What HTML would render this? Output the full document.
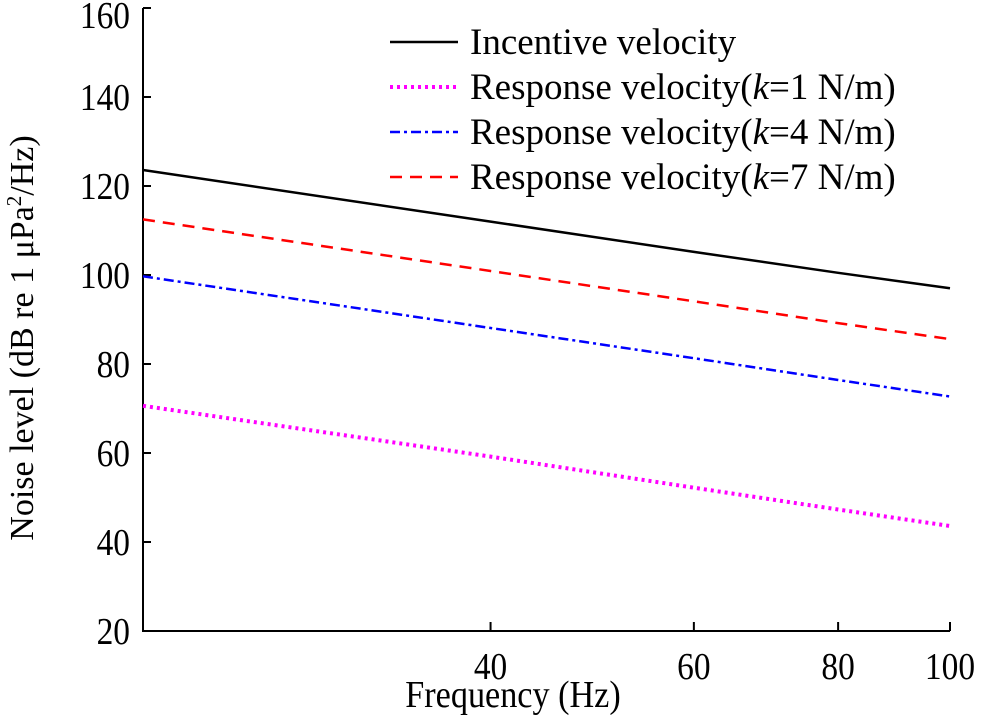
<!DOCTYPE html>
<html><head><meta charset="utf-8"><style>
body{margin:0;background:#fff;}
svg{display:block;font-family:"Liberation Serif",serif;}
</style></head><body>
<svg id="chart" width="986" height="725" viewBox="0 0 986 725">
<g id="axes"></g><g id="series"></g><g id="legend"></g>
</svg>
<script>
const freqs=[20,40,60,80,100];
const incentive=[123.6,112.0,105.2,100.5,97.0];
const resp1=[70.6,59.2,52.2,47.3,43.6];
const resp4=[99.7,88.1,81.3,76.4,72.7];
const resp7=[112.5,100.9,94.1,89.2,85.6];
const xTicks=[40,60,80,100];
const yTicks=[20,40,60,80,100,120,140,160];
const legendLabels=["Incentive velocity","Response velocity(","Response velocity(","Response velocity("];
const legendK=["","1","4","7"];

const NS="http://www.w3.org/2000/svg";
const X0=143,X1=950,Y0=631,Y1=8;
const xs=f=>X0+(Math.log10(f)-Math.log10(20))/(Math.log10(100)-Math.log10(20))*(X1-X0);
const ys=v=>Y0-(v-20)/(160-20)*(Y0-Y1);
function mk(tag,attrs,parent){const e=document.createElementNS(NS,tag);for(const k in attrs)e.setAttribute(k,attrs[k]);parent.appendChild(e);return e;}
const axes=document.getElementById('axes');
let a=mk('path',{d:`M${X0},${Y1}V${Y0}H${X1}`,fill:'none',stroke:'#000','stroke-width':2},axes);


yTicks.forEach(v=>{
  const t=mk('line',{x1:X0,x2:X0+8,y1:ys(v),y2:ys(v),stroke:'#000','stroke-width':2},axes);
  
  
  const by=Math.max(ys(v)+13,28);
  const l=mk('text',{x:0,y:0,'text-anchor':'end','font-size':38,transform:`translate(${X0-13},${by}) scale(0.88,1)`},axes);
  l.textContent=v;
  
  
});
xTicks.forEach(v=>{
  const t=mk('line',{x1:xs(v),x2:xs(v),y1:Y0,y2:Y0-9,stroke:'#000','stroke-width':2},axes);
  
  
  const l=mk('text',{x:0,y:0,'text-anchor':'middle','font-size':38,transform:`translate(${xs(v)},${Y0+48}) scale(0.88,1)`},axes);
  l.textContent=v;
  
  
});
let xt=mk('text',{x:0,y:0,'text-anchor':'middle','font-size':38,transform:'translate(513,707) scale(0.9,1)'},axes);
xt.textContent='Frequency (Hz)';


let yt=mk('text',{x:0,y:0,'text-anchor':'middle','font-size':34,transform:'translate(33,338) rotate(-90)'},axes);
yt.innerHTML='Noise level (dB re 1 μPa<tspan font-size="21" dy="-12">2</tspan><tspan dy="12">/Hz)</tspan>';



const styles=[
 {data:incentive,c:'#000',dash:'',w:2.5,name:'incentive-velocity-line'},
 {data:resp1,c:'#ff00ff',dash:'3 4',w:4,name:'response-k1-line'},
 {data:resp4,c:'#0000ff',dash:'10 4 3 4',w:2.5,name:'response-k4-line'},
 {data:resp7,c:'#ff0000',dash:'12 8',w:2.5,name:'response-k7-line'}];
const sg=document.getElementById('series');
styles.forEach(s=>{
  const d=s.data.map((v,i)=>(i?'L':'M')+xs(freqs[i]).toFixed(1)+','+ys(v).toFixed(1)).join('');
  const p=mk('path',{d,fill:'none',stroke:s.c,'stroke-width':s.w,'stroke-dasharray':s.dash},sg);
  
  
});
const lg=document.getElementById('legend');
styles.forEach((s,i)=>{
  const y=42+i*45;
  const ln=mk('line',{x1:390,x2:458,y1:y,y2:y,stroke:s.c,'stroke-width':s.w,'stroke-dasharray':s.dash},lg);
  
  
  const t=mk('text',{x:470,y:y+12,'font-size':37},lg);
  if(i===0)t.textContent=legendLabels[i];
  else t.innerHTML=legendLabels[i]+'<tspan font-style="italic">k</tspan>='+legendK[i]+' N/m)';
  
  
});
</script>
</body></html>
